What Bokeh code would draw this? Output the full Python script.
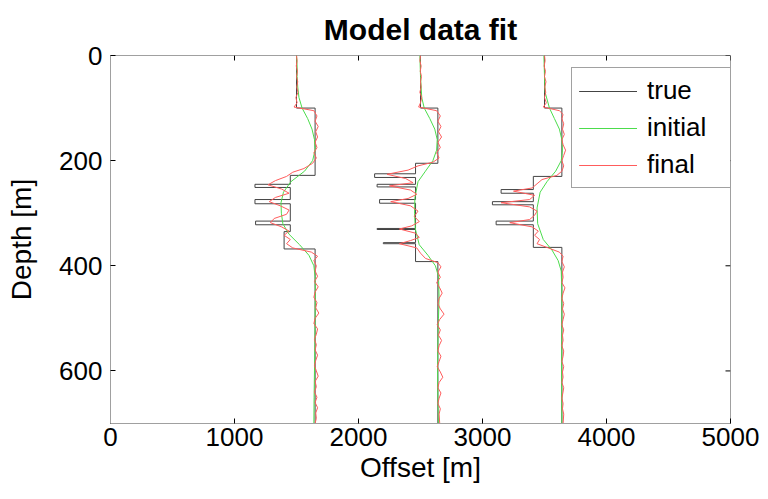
from bokeh.plotting import figure
from bokeh.models import Range1d, FixedTicker
from bokeh.embed import file_html
from bokeh.resources import INLINE

offset_ticks = [0, 1000, 2000, 3000, 4000, 5000]
depth_ticks = [0, 200, 400, 600]

# true models (depth, offset) vertices of the blocky logs
true1 = [(0, 1500), (100, 1500), (100, 1650), (228, 1650), (228, 1450), (245, 1450), (245, 1165),
         (251, 1165), (251, 1450), (274, 1450), (274, 1165), (282, 1165), (282, 1450), (315, 1450),
         (315, 1170), (322, 1170), (322, 1450), (335, 1450), (335, 1400), (368, 1400), (368, 1650),
         (700, 1650)]
true2 = [(0, 2500), (100, 2500), (100, 2640), (205, 2640), (205, 2460), (225, 2460), (225, 2130),
         (232, 2130), (232, 2460), (245, 2460), (245, 2150), (250, 2150), (250, 2460), (274, 2460),
         (274, 2170), (281, 2170), (281, 2460), (329, 2460), (329, 2150), (331, 2150), (331, 2460),
         (356, 2460), (356, 2200), (358, 2200), (358, 2460), (392, 2460), (392, 2640), (700, 2640)]
true3 = [(0, 3500), (100, 3500), (100, 3640), (230, 3640), (230, 3410), (255, 3410), (255, 3150),
         (262, 3150), (262, 3410), (278, 3410), (278, 3080), (284, 3080), (284, 3410), (315, 3410),
         (315, 3110), (322, 3110), (322, 3410), (365, 3410), (365, 3640), (700, 3640)]

# initial models
init1 = [(0, 1500), (20, 1505), (40, 1505), (60, 1510), (80, 1520), (100, 1545), (120, 1590),
         (140, 1625), (160, 1645), (180, 1650), (200, 1630), (220, 1565), (240, 1455), (260, 1395),
         (280, 1375), (300, 1378), (320, 1390), (340, 1440), (360, 1525), (380, 1600), (400, 1640),
         (420, 1650), (450, 1652), (500, 1650), (550, 1648), (600, 1645), (650, 1642), (700, 1640)]
init2 = [(0, 2495), (40, 2500), (80, 2510), (100, 2530), (120, 2575), (140, 2615), (160, 2635),
         (180, 2630), (200, 2600), (220, 2540), (240, 2480), (270, 2455), (300, 2452), (330, 2458),
         (360, 2490), (380, 2560), (400, 2620), (420, 2645), (460, 2650), (500, 2645), (550, 2640),
         (600, 2638), (650, 2640), (700, 2645)]
init3 = [(0, 3495), (40, 3500), (70, 3505), (100, 3540), (120, 3580), (140, 3620), (160, 3640),
         (180, 3645), (200, 3635), (220, 3590), (240, 3520), (260, 3465), (290, 3440), (320, 3445),
         (350, 3490), (370, 3560), (390, 3610), (410, 3635), (450, 3640), (500, 3640), (600, 3638),
         (700, 3640)]

# final (inverted) models
final1 = [(0, 1500), (10, 1505), (20, 1498), (30, 1508), (40, 1500), (50, 1510), (60, 1502), (70, 1512),
          (80, 1495), (90, 1505), (98, 1480), (105, 1640), (115, 1665), (125, 1650), (135, 1675),
          (145, 1655), (155, 1670), (165, 1650), (175, 1665), (185, 1640), (195, 1660), (205, 1630),
          (215, 1560), (222, 1470), (230, 1420), (238, 1330), (246, 1270), (254, 1380), (262, 1440),
          (270, 1330), (278, 1280), (286, 1370), (294, 1440), (302, 1420), (310, 1320), (318, 1290),
          (326, 1380), (334, 1440), (342, 1400), (350, 1450), (358, 1420), (366, 1470), (374, 1620),
          (382, 1670), (390, 1640), (400, 1660), (410, 1650), (420, 1670), (430, 1645), (440, 1675),
          (450, 1650), (460, 1640), (470, 1665), (480, 1655), (490, 1680), (500, 1650), (510, 1640),
          (520, 1670), (530, 1660), (540, 1645), (550, 1660), (560, 1650), (570, 1670), (580, 1655),
          (590, 1645), (600, 1660), (610, 1675), (620, 1650), (630, 1660), (640, 1645), (650, 1665),
          (660, 1650), (670, 1670), (680, 1655), (690, 1660), (700, 1650)]
final2 = [(0, 2500), (10, 2495), (20, 2505), (30, 2498), (40, 2508), (50, 2500), (60, 2505), (70, 2495),
          (80, 2510), (90, 2500), (98, 2485), (105, 2630), (115, 2660), (125, 2640), (135, 2665),
          (145, 2645), (155, 2670), (165, 2640), (175, 2660), (185, 2630), (195, 2650), (203, 2600),
          (210, 2480), (218, 2400), (226, 2230), (234, 2380), (242, 2440), (248, 2250), (256, 2420),
          (264, 2470), (272, 2400), (278, 2260), (286, 2420), (296, 2480), (306, 2450), (316, 2490),
          (324, 2430), (330, 2330), (338, 2460), (346, 2490), (352, 2420), (358, 2330), (366, 2470),
          (376, 2500), (386, 2540), (394, 2640), (402, 2665), (412, 2640), (422, 2660), (432, 2630),
          (442, 2655), (452, 2675), (462, 2650), (472, 2640), (482, 2660), (492, 2690), (502, 2655),
          (512, 2635), (522, 2660), (532, 2645), (542, 2670), (552, 2650), (562, 2640), (572, 2665),
          (582, 2650), (592, 2635), (602, 2660), (612, 2680), (622, 2650), (632, 2640), (642, 2665),
          (652, 2650), (662, 2640), (672, 2660), (682, 2650), (700, 2655)]
final3 = [(0, 3500), (10, 3505), (20, 3497), (30, 3508), (40, 3500), (50, 3512), (60, 3502), (70, 3510),
          (80, 3500), (90, 3515), (98, 3490), (105, 3620), (112, 3650), (120, 3640), (130, 3655),
          (140, 3645), (150, 3660), (160, 3640), (170, 3650), (180, 3670), (190, 3655), (200, 3640),
          (210, 3655), (220, 3640), (228, 3600), (236, 3480), (244, 3440), (252, 3400), (258, 3250),
          (266, 3420), (274, 3380), (280, 3150), (288, 3380), (296, 3440), (304, 3420), (312, 3380),
          (318, 3220), (326, 3400), (334, 3450), (342, 3420), (350, 3460), (358, 3440), (366, 3530),
          (374, 3620), (382, 3650), (392, 3640), (402, 3660), (412, 3645), (422, 3650), (432, 3640),
          (442, 3665), (452, 3650), (462, 3640), (472, 3655), (482, 3645), (492, 3660), (502, 3650),
          (512, 3640), (522, 3655), (532, 3645), (542, 3650), (552, 3640), (562, 3655), (572, 3650),
          (582, 3640), (592, 3655), (602, 3645), (612, 3650), (622, 3640), (632, 3655), (642, 3648),
          (652, 3640), (662, 3650), (672, 3645), (682, 3655), (700, 3650)]

FONT = "Liberation Sans"
C_TRUE = "#444444"
C_INIT = "#4cdc4c"
C_FINAL = "#ff5c5c"
X0, X1, Y0, Y1 = 0, 5000, 0, 700
FRAME_W, FRAME_H = 620, 368

p = figure(width=768, height=499, output_backend="svg", toolbar_location=None,
           x_range=Range1d(X0, X1), y_range=Range1d(Y1, Y0),
           min_border_left=110, min_border_right=38, min_border_top=55, min_border_bottom=76)
p.title.text = "Model data fit"
p.title.align = "center"
p.title.text_font = FONT
p.title.text_font_size = "30px"
p.title.text_font_style = "bold"
p.title.text_color = "black"
p.title.standoff = 20
p.xgrid.visible = False
p.ygrid.visible = False
p.outline_line_color = "#a0a0a0"
p.background_fill_color = "white"
p.border_fill_color = "white"


def style(ax, ticks):
    ax.ticker = FixedTicker(ticks=ticks)
    ax.minor_tick_line_color = None
    ax.major_tick_in = 5
    ax.major_tick_out = 0
    ax.major_tick_line_color = "black"
    ax.axis_line_color = "#a0a0a0"
    ax.major_label_text_font = FONT
    ax.major_label_text_font_size = "26px"
    ax.major_label_text_color = "black"
    ax.axis_label_text_font = FONT
    ax.axis_label_text_font_size = "28px"
    ax.axis_label_text_font_style = "normal"
    ax.axis_label_text_color = "black"


style(p.xaxis[0], offset_ticks)
style(p.yaxis[0], depth_ticks)
p.xaxis[0].axis_label = "Offset [m]"
p.yaxis[0].axis_label = "Depth [m]"
p.xaxis[0].major_label_standoff = 4
p.xaxis[0].axis_label_standoff = 3
p.yaxis[0].major_label_standoff = 8
p.yaxis[0].axis_label_standoff = 19

# inward tick marks on the top and right edges of the box (MATLAB "box on")
tick_len_x = (X1 - X0) * 5 / FRAME_W
tick_len_y = (Y1 - Y0) * 5 / FRAME_H
p.segment(x0=offset_ticks, x1=offset_ticks, y0=[Y0] * len(offset_ticks),
          y1=[Y0 + tick_len_y] * len(offset_ticks), line_color="black", line_width=1)
p.segment(x0=[X1] * len(depth_ticks), x1=[X1 - tick_len_x] * len(depth_ticks),
          y0=depth_ticks, y1=depth_ticks, line_color="black", line_width=1)


def xy(pairs):
    d = [a for a, b in pairs]
    o = [b for a, b in pairs]
    return o, d


for tr, ini, fin in [(true1, init1, final1), (true2, init2, final2), (true3, init3, final3)]:
    x, y = xy(tr)
    p.line(x, y, line_color=C_TRUE, line_width=1, legend_label="true")
    x, y = xy(ini)
    p.line(x, y, line_color=C_INIT, line_width=1, legend_label="initial")
    x, y = xy(fin)
    p.line(x, y, line_color=C_FINAL, line_width=1, legend_label="final")

lg = p.legend[0]
lg.location = (461, 235)
lg.padding = 7
lg.spacing = 6
lg.margin = 0
lg.glyph_width = 58
lg.glyph_height = 30
lg.label_height = 30
lg.label_width = 76
lg.label_standoff = 10
lg.label_text_font = FONT
lg.label_text_font_size = "26px"
lg.label_text_color = "black"
lg.border_line_color = "#444444"
lg.border_line_width = 1
lg.background_fill_color = "white"
lg.background_fill_alpha = 1.0

open("out.html", "w").write(file_html(p, INLINE))
